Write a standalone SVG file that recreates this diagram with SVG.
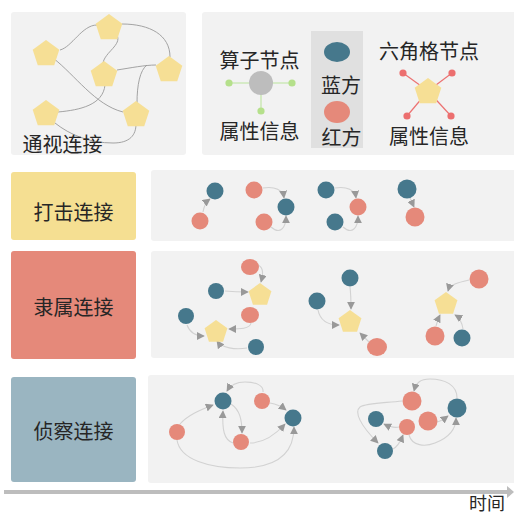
<svg xmlns="http://www.w3.org/2000/svg" xmlns:xlink="http://www.w3.org/1999/xlink" width="514" height="515" viewBox="0 0 514 515">
<style>
.panel{fill:#f2f2f2}
.lbl{font-family:"Noto Sans CJK SC","Noto Sans",sans-serif;font-size:20px;fill:#262626;text-anchor:middle}
.vis{fill:none;stroke:#9a9a9a;stroke-width:0.9}
.edge{fill:none;stroke:#d2d2d2;stroke-width:1.1;marker-end:url(#arr)}
.blue{fill:#46788c}
.red{fill:#e5897a}
.pent{fill:#f6df95}
</style>
<defs>
<marker id="arr" viewBox="0 0 10 10" refX="9" refY="5" markerWidth="8" markerHeight="8" markerUnits="userSpaceOnUse" orient="auto">
<path d="M0,0 L10,5 L0,10 z" fill="#999"/>
</marker>
<polygon id="pL" points="0,-14 13.31,-4.33 8.23,11.33 -8.23,11.33 -13.31,-4.33"/>
<polygon id="pS" points="0,-12 11.41,-3.71 7.05,9.71 -7.05,9.71 -11.41,-3.71"/>
</defs>

<!-- panels -->
<g id="panels">
<rect class="panel" x="11" y="12" width="175" height="143" rx="3"/>
<rect class="panel" x="202" y="12" width="320" height="143" rx="3"/>
<rect x="311" y="31" width="52" height="117" fill="#e0e0e0"/>
<rect class="panel" x="151" y="170" width="370" height="71" rx="3"/>
<rect class="panel" x="151" y="251" width="370" height="107" rx="3"/>
<rect class="panel" x="148" y="375" width="373" height="108" rx="3"/>
</g>

<!-- line of sight panel -->
<g id="connectors-visibility">
<path class="vis" d="M60,50 C72,47 82,25 97,25"/>
<path class="vis" d="M122,24 C150,24 170,35 170,57"/>
<path class="vis" d="M117,35 C122,45 105,52 103,63"/>
<path class="vis" d="M53,58 C75,75 95,105 123,112"/>
<path class="vis" d="M117,70 C130,68 145,65 156,65"/>
<path class="vis" d="M147,65 C140,70 137,85 137,103"/>
<path class="vis" d="M58,112 C80,110 103,105 105,85"/>
<path class="vis" d="M55,123 C70,135 90,143 113,143 C130,143 136,135 136,124"/>
</g>
<g id="vis-nodes">
<use href="#pL" class="pent" x="46" y="54"/>
<use href="#pL" class="pent" x="109" y="28"/>
<use href="#pL" class="pent" x="104" y="75"/>
<use href="#pL" class="pent" x="169" y="70"/>
<use href="#pL" class="pent" x="46" y="114"/>
<use href="#pL" class="pent" x="136" y="115"/>
</g>
<text class="lbl" x="62.5" y="152">通视连接</text>

<!-- legend -->
<g id="legend-operator">
<text class="lbl" x="259.5" y="67.5">算子节点</text>
<g stroke="#cde8b8" stroke-width="1.6">
<line x1="229" y1="83" x2="292" y2="83"/>
<line x1="261" y1="83" x2="261" y2="111"/>
</g>
<circle cx="261" cy="83" r="12" fill="#bdbdbd"/>
<g fill="#b5e08b">
<circle cx="229" cy="83" r="3.6"/>
<circle cx="292" cy="83" r="3.6"/>
<circle cx="261" cy="111" r="3.6"/>
</g>
<text class="lbl" x="259.5" y="138.5">属性信息</text>
</g>
<g id="legend-sides">
<ellipse class="blue" cx="337" cy="52" rx="13" ry="10"/>
<text class="lbl" x="341" y="93">蓝方</text>
<ellipse class="red" cx="337" cy="112" rx="13" ry="11"/>
<text class="lbl" x="341.5" y="145">红方</text>
</g>
<g id="legend-hex">
<text class="lbl" x="429" y="58.5">六角格节点</text>
<g stroke="#ec7272" stroke-width="1.2">
<line x1="428" y1="91" x2="403" y2="73"/>
<line x1="428" y1="91" x2="452" y2="73"/>
<line x1="428" y1="91" x2="407" y2="116"/>
<line x1="428" y1="91" x2="451" y2="116"/>
</g>
<use href="#pL" class="pent" x="428" y="92"/>
<g fill="#ec6f6f">
<circle cx="403" cy="73" r="3.6"/>
<circle cx="452" cy="73" r="3.6"/>
<circle cx="407" cy="116" r="3.6"/>
<circle cx="451" cy="116" r="3.6"/>
</g>
<text class="lbl" x="429" y="143.5">属性信息</text>
</g>

<!-- row labels -->
<g id="label-strike">
<rect x="11" y="172" width="125" height="68" rx="3" fill="#f5df92"/>
<text class="lbl" x="73.5" y="219.5">打击连接</text>
</g>
<g id="label-subordinate">
<rect x="11" y="251" width="125" height="108" rx="3" fill="#e5897a"/>
<text class="lbl" x="73.5" y="315">隶属连接</text>
</g>
<g id="label-recon">
<rect x="11" y="377" width="125" height="105" rx="3" fill="#9ab5c1"/>
<text class="lbl" x="73.5" y="438.5">侦察连接</text>
</g>

<!-- connectors -->
<g id="connectors">
<!-- row 1 -->
<path class="edge" d="M203,212 C204,206 206,202 210,199"/>
<path class="edge" d="M263,188 C275,186 283,190 284,198"/>
<path class="edge" d="M271,227 C280,235 286,228 286,216"/>
<path class="edge" d="M335,188 C347,186 355,190 356,198"/>
<path class="edge" d="M343,227 C352,235 358,228 358,216"/>
<path class="edge" d="M410,198 L414,207"/>
<!-- row 2 -->
<path class="edge" d="M225,291 C235,292 240,292 248,292"/>
<path class="edge" d="M258,265 C264,268 263,274 261,282"/>
<path class="edge" d="M187,325 C190,333 197,336 204,336"/>
<path class="edge" d="M251,323 C250,329 240,329 229,329"/>
<path class="edge" d="M247,348 C235,350 222,348 217,341"/>
<path class="edge" d="M350,287 C351,295 351,300 351,309"/>
<path class="edge" d="M318,310 C320,320 328,325 339,325"/>
<path class="edge" d="M369,342 L360,333"/>
<path class="edge" d="M469,280 C460,282 450,284 448,291"/>
<path class="edge" d="M436,326 C437,322 438,319 440,315"/>
<path class="edge" d="M463,329 C462,322 460,318 455,315"/>
<!-- row 3 -->
<path class="edge" d="M263,392 C264,385 255,382 245,382 C235,382 230,386 227,391"/>
<path class="edge" d="M180,424 C188,415 200,410 213,405"/>
<path class="edge" d="M231,404 C240,410 242,420 242,433"/>
<path class="edge" d="M233,443 C224,440 222,430 223,411"/>
<path class="edge" d="M270,403 C276,404 281,406 286,410"/>
<path class="edge" d="M250,443 C262,443 275,435 285,424"/>
<path class="edge" d="M177,440 C180,460 210,468 240,468 C275,468 294,455 294,427"/>
<path class="edge" d="M457,398 C457,385 445,379 430,379 C420,379 416,383 414,391"/>
<path class="edge" d="M402,401 C385,403 366,403 360,407 C354,412 360,425 378,443"/>
<path class="edge" d="M399,427 C395,428 390,427 384,424"/>
<path class="edge" d="M393,449 C399,446 401,440 403,435"/>
<path class="edge" d="M437,422 C441,421 444,419 448,416"/>
<path class="edge" d="M409,435 C412,446 425,447 435,443 C448,438 456,430 456,418"/>
</g>

<!-- row 1 nodes -->
<g id="strike-1">
<circle class="blue" cx="215" cy="191" r="8.5"/>
<circle class="red" cx="200" cy="221" r="8.5"/>
</g>
<g id="strike-2">
<circle class="red" cx="254" cy="190" r="8.5"/>
<circle class="blue" cx="286" cy="207" r="8.5"/>
<circle class="red" cx="264" cy="222" r="8.5"/>
</g>
<g id="strike-3">
<circle class="blue" cx="326" cy="190" r="8.5"/>
<circle class="red" cx="358" cy="207" r="8.5"/>
<circle class="blue" cx="335" cy="222" r="8.5"/>
</g>
<g id="strike-4">
<circle class="blue" cx="407" cy="189" r="9.5"/>
<circle class="red" cx="415" cy="217" r="9.5"/>
</g>

<!-- row 2 nodes -->
<g id="sub-1">
<ellipse class="red" cx="250" cy="267" rx="9" ry="8"/>
<circle class="blue" cx="216" cy="291" r="8"/>
<use href="#pS" class="pent" x="260" y="295"/>
<circle class="blue" cx="186" cy="316" r="8"/>
<ellipse class="red" cx="250" cy="315" rx="9" ry="8"/>
<use href="#pS" class="pent" x="216" y="332"/>
<circle class="blue" cx="256" cy="347" r="8"/>
</g>
<g id="sub-2">
<circle class="blue" cx="350" cy="278" r="8.5"/>
<circle class="blue" cx="317" cy="301" r="8.5"/>
<use href="#pS" class="pent" x="350" y="322"/>
<ellipse class="red" cx="377" cy="347" rx="10" ry="9"/>
</g>
<g id="sub-3">
<circle class="red" cx="479" cy="279" r="9.5"/>
<use href="#pS" class="pent" x="446" y="304"/>
<circle class="red" cx="435" cy="336" r="9.5"/>
<circle class="blue" cx="462" cy="338" r="8.5"/>
</g>

<!-- row 3 nodes -->
<g id="recon-1">
<circle class="blue" cx="223" cy="401" r="8.5"/>
<circle class="red" cx="262" cy="401" r="8"/>
<circle class="blue" cx="293" cy="418" r="8.5"/>
<circle class="red" cx="177" cy="432" r="8"/>
<circle class="red" cx="241" cy="442" r="8"/>
</g>
<g id="recon-2">
<circle class="red" cx="412" cy="401" r="9.5"/>
<circle class="blue" cx="457" cy="408" r="9.5"/>
<circle class="blue" cx="376" cy="419" r="8"/>
<circle class="red" cx="428" cy="421" r="9.5"/>
<circle class="red" cx="407" cy="427" r="8"/>
<circle class="blue" cx="385" cy="451" r="8"/>
</g>

<!-- time axis -->
<g id="time-axis">
<line x1="4" y1="492" x2="508" y2="492" stroke="#bdbdbd" stroke-width="4"/>
<polygon points="507,486 514,492 507,498" fill="#bdbdbd"/>
<text class="lbl" x="487" y="510" style="font-size:18px">时间</text>
</g>
</svg>
